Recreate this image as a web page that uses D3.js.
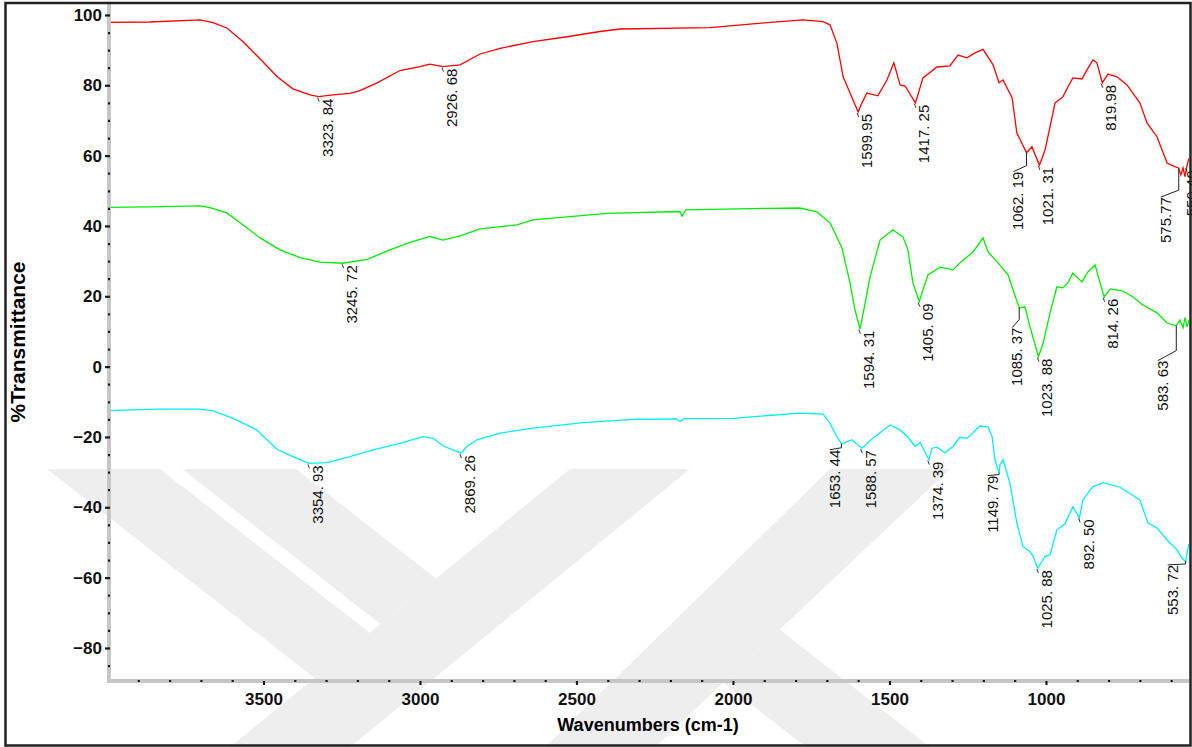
<!DOCTYPE html>
<html>
<head>
<meta charset="utf-8">
<script src="https://cdn.jsdelivr.net/npm/d3@7"></script>
<style>
body { margin: 0; background: #fff; }
svg { display: block; font-family: "Liberation Sans", Arial, sans-serif; }
</style>
</head>
<body>
<svg width="1192" height="747"></svg>
<script>
// spectra: wavenumber (cm-1) and %T
var redWn = [4000,3863,3703,3661,3617,3565,3502,3457,3406,3351,3324,3278,3224,3192,3137,3064,3000,2968,2927,2872,2808,2744,2639,2530,2425,2361,2073,1891,1776,1712,1690,1668,1648,1626,1600,1588,1572,1537,1508,1486,1466,1450,1417,1393,1348,1307,1281,1252,1227,1201,1169,1150,1137,1108,1093,1062,1045,1021,1003,987,971,946,930,914,885,869,850,837,820,802,773,741,700,677,645,613,594,576,569,562,556,549,543];
var redT = [97.9,98.0,98.6,97.8,96.3,92.4,86.7,82.5,79.0,77.3,76.8,77.3,77.7,78.5,80.7,84.2,85.3,86.0,85.3,85.8,88.9,90.5,92.4,93.8,95.3,96.0,96.4,97.8,98.6,98.1,97.2,92.0,82.4,77.8,72.4,75.0,77.8,77.0,81.5,86.4,80.1,79.8,75.0,82.1,85.2,85.5,88.6,87.8,89.2,90.2,85.8,80.7,81.5,76.4,66.4,60.8,62.5,57.3,61.6,68.2,75.0,76.7,79.5,82.1,81.8,84.4,87.2,86.4,80.7,83.2,82.4,80.1,75.0,69.3,65.3,57.9,57.1,56.5,54.5,56.5,54.0,57.3,59.3];

var greenWn = [4000,3863,3703,3671,3617,3565,3511,3447,3383,3319,3246,3169,3096,3032,2968,2927,2872,2808,2690,2639,2402,2169,2163,2150,1891,1786,1732,1690,1652,1626,1610,1594,1585,1562,1530,1489,1457,1441,1425,1405,1393,1377,1339,1297,1275,1233,1201,1185,1156,1121,1105,1085,1067,1051,1024,1009,987,965,946,930,914,885,866,843,827,814,795,754,722,690,645,613,584,572,562,556,549,543];
var greenT = [45.3,45.4,45.7,45.2,43.7,40.3,36.6,33.2,31.0,29.7,29.4,30.5,33.2,35.3,37.0,36.0,37.2,39.2,40.3,41.7,43.6,44.1,42.8,44.6,45.0,45.1,44.0,40.9,33.8,23.8,16.1,10.7,14.7,25.5,36.0,38.9,36.9,33.2,23.8,18.5,21.8,26.1,28.3,27.5,29.5,32.6,36.6,32.6,29.8,26.1,21.8,16.7,17.0,11.3,2.8,6.7,15.3,22.7,22.4,23.8,26.6,24.1,26.9,28.9,23.8,19.8,22.1,21.5,19.8,17.5,15.3,12.4,11.6,13.3,11.0,13.9,11.3,13.3];

var cyanWn = [4000,3831,3703,3661,3597,3521,3457,3406,3355,3297,3224,3150,3064,2990,2958,2927,2895,2869,2850,2818,2744,2639,2479,2319,2182,2169,2157,2000,1786,1712,1690,1668,1653,1620,1588,1553,1498,1466,1441,1418,1402,1374,1364,1348,1323,1297,1275,1252,1211,1185,1172,1163,1150,1147,1137,1115,1093,1073,1051,1041,1026,1003,987,965,939,914,893,882,850,818,763,700,674,645,613,581,565,554,549,543];
var cyanT = [-12.5,-12.1,-12.1,-12.6,-14.7,-18.0,-23.5,-25.6,-27.5,-27.3,-25.6,-23.7,-21.8,-19.9,-20.4,-22.5,-23.7,-24.6,-22.7,-20.8,-18.9,-17.5,-15.9,-15.0,-14.9,-15.6,-14.8,-14.7,-13.2,-13.5,-16.1,-19.9,-22.0,-20.8,-23.2,-20.4,-16.6,-18.0,-20.1,-22.7,-21.6,-26.5,-23.2,-22.9,-24.5,-22.7,-20.1,-20.4,-16.9,-17.1,-19.9,-26.5,-30.3,-27.9,-26.5,-33.2,-44.5,-51.2,-52.6,-54.0,-57.3,-54.0,-53.5,-46.4,-44.7,-39.8,-43.1,-37.9,-34.1,-33.0,-34.3,-37.9,-44.5,-45.9,-49.3,-52.1,-54.5,-55.4,-52.9,-50.4];

// peak picks
var redPeaks = [3323.84, 2926.68, 1599.95, 1417.25, 1062.19, 1021.31, 819.98, 575.77, 550.40];
var redPeakLabels = ["3323. 84", "2926. 68", "1599.95", "1417. 25", "1062. 19", "1021. 31", "819.98", "575.77", "550.40"];
var greenPeaks = [3245.72, 1594.31, 1405.09, 1085.37, 1023.88, 814.26, 583.63];
var greenPeakLabels = ["3245. 72", "1594. 31", "1405. 09", "1085. 37", "1023. 88", "814. 26", "583. 63"];
var cyanPeaks = [3354.93, 2869.26, 1653.44, 1588.57, 1374.39, 1149.79, 1025.88, 892.50, 553.72];
var cyanPeakLabels = ["3354. 93", "2869. 26", "1653. 44", "1588. 57", "1374. 39", "1149. 79", "1025. 88", "892. 50", "553. 72"];

var xMajor = [3500, 3000, 2500, 2000, 1500, 1000];
var yMajor = [-80, -60, -40, -20, 0, 20, 40, 60, 80, 100];

var svg = d3.select("svg"),
    plotL = 107, plotR = 1189, plotT = 3, plotB = 681;

var x = d3.scaleLinear().domain([4000, 543]).range([plotL, plotR]);
var y = d3.scaleLinear().domain([-89.4, 103.4]).range([plotB, plotT]);

// faint watermark in the background
var wm = [
  [[47,469],[160,469],[369.7,632.8],[314.5,678]],
  [[182,469],[296,469],[436,578.5],[380.4,624]],
  [[230,747],[350,747],[690,469],[570,469]],
  [[545,747],[655,747],[950,469],[830,469]],
  [[723.4,682.5],[779.6,629.5],[930,747],[806,747]]
];
svg.append("g").selectAll("polygon").data(wm).enter().append("polygon")
    .attr("points", function(d) { return d.join(" "); })
    .attr("fill", "#eeeeee");

var series = [
  {wn: redWn, t: redT, peaks: redPeaks, labels: redPeakLabels, color: "#ff0000"},
  {wn: greenWn, t: greenT, peaks: greenPeaks, labels: greenPeakLabels, color: "#00ee00"},
  {wn: cyanWn, t: cyanT, peaks: cyanPeaks, labels: cyanPeakLabels, color: "#00f0f0"}
];

var line = d3.line()
    .x(function(d) { return x(d[0]); })
    .y(function(d) { return y(d[1]); });

svg.append("defs").append("clipPath").attr("id", "plot")
  .append("rect").attr("x", plotL).attr("y", plotT).attr("width", plotR - plotL).attr("height", plotB - plotT);

var plot = svg.append("g").attr("clip-path", "url(#plot)");
series.forEach(function(s) {
  plot.append("path")
      .datum(d3.zip(s.wn, s.t))
      .attr("fill", "none")
      .attr("stroke", s.color)
      .attr("stroke-width", 1.3)
      .attr("d", line);
});

// value of a spectrum at a given wavenumber
function valueAt(s, w) {
  for (var i = 1; i < s.wn.length; i++) {
    if (s.wn[i] <= w) {
      var f = (s.wn[i - 1] - w) / (s.wn[i - 1] - s.wn[i]);
      return s.t[i - 1] + f * (s.t[i] - s.t[i - 1]);
    }
  }
  return s.t[s.t.length - 1];
}

// labels that were pushed aside, with a leader line
var leaders = {
  "1062. 19": {knee: 13, dx: -8, dy: 19},
  "575.77": {knee: 22, dx: -13, dy: 29},
  "1085. 37": {knee: 12, dx: -2, dy: 20},
  "583. 63": {knee: 25, dx: -13.5, dy: 35},
  "1653. 44": {knee: 4, dx: -6.5, dy: 6},
  "1149. 79": {knee: 2, dx: -6.5, dy: 3},
  "553. 72": {knee: 3, dx: -13, dy: 4},
  "550.40": {knee: 0, dx: 5, dy: 3}
};

var peakG = svg.append("g");
series.forEach(function(s) {
  s.peaks.forEach(function(w, i) {
    var px = x(w), py = y(valueAt(s, w)), lab = s.labels[i];
    var L = leaders[lab] || {knee: 0, dx: 9, dy: 2};
    var cx = px + L.dx, ty = py + L.dy;
    if (L.knee > 0) {
      peakG.append("path")
          .attr("d", "M" + px + "," + py + "V" + (py + L.knee) + "L" + (cx - 5) + "," + ty)
          .attr("fill", "none").attr("stroke", "#222").attr("stroke-width", 1);
    } else {
      peakG.append("line")
          .attr("x1", px - 1).attr("y1", py + 1).attr("x2", px + 0.5).attr("y2", py + 5)
          .attr("stroke", "#333").attr("stroke-width", 1);
    }
    peakG.append("text")
        .attr("transform", "translate(" + (cx + 5) + "," + ty + ") rotate(-90)")
        .attr("text-anchor", "end")
        .style("font-size", "15px")
        .attr("fill", "#111")
        .text(lab);
  });
});

// axes: grey bars with dark ticks
svg.append("rect").attr("x", 107).attr("y", plotT).attr("width", 4).attr("height", plotB + 2 - plotT).attr("fill", "#c6c6c6");
svg.append("rect").attr("x", 107).attr("y", 679).attr("width", plotR - 107).attr("height", 4).attr("fill", "#c6c6c6");

var yAxis = svg.append("g").attr("transform", "translate(110,0)")
    .call(d3.axisLeft(y).tickValues(yMajor).tickSize(5).tickPadding(3));
var yMinor = svg.append("g").attr("transform", "translate(110,0)")
    .call(d3.axisLeft(y).tickValues(d3.range(-85, 101, 5).filter(function(v) { return v % 20 != 0; }))
      .tickSize(2).tickFormat(""));
var xAxis = svg.append("g").attr("transform", "translate(0,681)")
    .call(d3.axisBottom(x).tickValues(xMajor).tickSize(4).tickPadding(8).tickFormat(d3.format("d")));
var xMinor = svg.append("g").attr("transform", "translate(0,680)")
    .call(d3.axisBottom(x).tickValues(d3.range(3900, 543, -100).filter(function(v) { return v % 500 != 0; }))
      .tickSize(2).tickFormat(""));

[yAxis, yMinor, xAxis, xMinor].forEach(function(a) {
  a.select(".domain").remove();
  a.selectAll("line").attr("stroke", "#1a1a1a").attr("stroke-width", 2.2);
  a.selectAll("text").attr("fill", "#111").style("font-size", "17px").style("font-weight", "bold")
   .style("font-family", "'Liberation Sans', Arial, sans-serif");
});

svg.append("text")
    .attr("x", (plotL + plotR) / 2).attr("y", 731)
    .attr("text-anchor", "middle")
    .style("font-size", "18px").style("font-weight", "bold")
    .text("Wavenumbers (cm-1)");

svg.append("text")
    .attr("transform", "translate(25,342) rotate(-90)")
    .attr("text-anchor", "middle")
    .style("font-size", "21px").style("font-weight", "bold")
    .text("%Transmittance");

// outer frame
svg.append("rect").attr("x", 5.5).attr("y", 3).attr("width", 1185).attr("height", 742.5)
    .attr("fill", "none").attr("stroke", "#222").attr("stroke-width", 2.5);
</script>
</body>
</html>
